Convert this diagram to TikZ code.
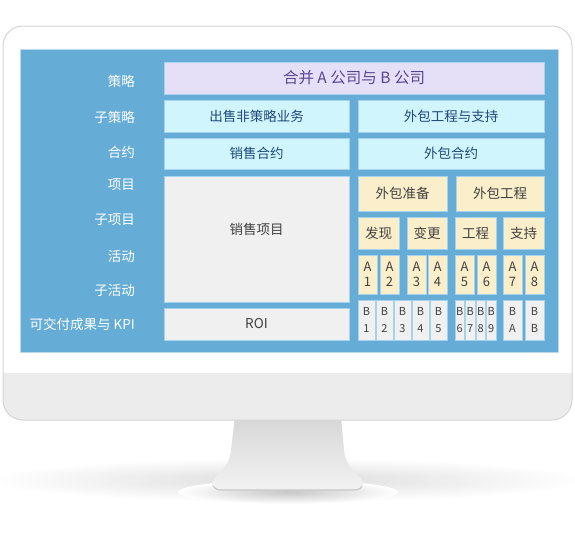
\documentclass[tikz,border=0pt]{standalone}
\usepackage{fontspec}
\setmainfont{Noto Sans CJK SC}
\definecolor{screenblue}{HTML}{65ADD7}
\definecolor{screenrim}{HTML}{BCD9EC}
\definecolor{cellline}{HTML}{A6D2EC}
\definecolor{lavender}{HTML}{E5E0F8}
\definecolor{plumtext}{HTML}{5B4592}
\definecolor{icecyan}{HTML}{D0F5FD}
\definecolor{navytext}{HTML}{1F4A7A}
\definecolor{paper}{HTML}{F0F0F0}
\definecolor{wheat}{HTML}{FBEFCB}
\definecolor{inktext}{HTML}{404040}
\definecolor{chin}{HTML}{ECECEC}
\definecolor{frame}{HTML}{D5D5D5}

\tikzset{
  cell/.style={draw=cellline, line width=0.8pt, inner sep=0pt, outer sep=0pt,
    anchor=north west, align=center, text=inktext,
    font=\fontsize{13.5}{16}\selectfont},
  plumcell/.style={cell, fill=lavender, text=plumtext, font=\fontsize{15.5}{18}\selectfont},
  icecell/.style={cell, fill=icecyan, text=navytext},
  papercell/.style={cell, fill=paper},
  wheatcell/.style={cell, fill=wheat},
  tagcell/.style={cell, fill=wheat, font=\fontsize{13}{15}\selectfont},
  chipcell/.style={cell, fill=paper, font=\fontsize{11}{16.5}\selectfont},
  rowlabel/.style={anchor=east, inner sep=0pt, text=white, font=\fontsize{13.5}{16}\selectfont},
}

\begin{document}
\begin{tikzpicture}[x=1pt,y=-1pt]
    \useasboundingbox (0,0) rectangle (575,552);

    % shadow under the stand
    \shade[inner color=black!14, outer color=white] (288,480) ellipse (300 and 22);
    \shade[inner color=black!22, outer color=white] (288,492) ellipse (110 and 12);

    % stand
    \shade[top color=black!16, bottom color=black!5]
        (235,416) -- (231,450) .. controls (229,470) and (215,474) .. (212,482)
        .. controls (211,487) and (216,490) .. (225,490) -- (350,490)
        .. controls (359,490) and (364,487) .. (363,482)
        .. controls (360,474) and (346,470) .. (344,450) -- (341,416) -- cycle;
    \draw[black!22, line width=1.2pt] (213,486) .. controls (216,490) and (218,490) .. (225,490)
        -- (350,490) .. controls (357,490) and (360,490) .. (362,486);

    % monitor
    \fill[white, rounded corners=20pt] (3,26) rectangle (572,420);
    \begin{scope}
        \clip[rounded corners=20pt] (3,26) rectangle (572,420);
        \fill[chin] (0,373) rectangle (575,425);
    \end{scope}
    \draw[frame, line width=1pt, rounded corners=20pt] (3,26) rectangle (572,420);

    % screen
    \draw[screenrim, fill=screenblue, line width=1pt] (20,49) rectangle (558,352);

    % row labels
    \node[rowlabel] (l1) at (135,81) {策略};
    \node[rowlabel] (l2) at (135,117) {子策略};
    \node[rowlabel] (l3) at (135,152) {合约};
    \node[rowlabel] (l4) at (135,185) {项目};
    \node[rowlabel] (l5) at (135,220) {子项目};
    \node[rowlabel] (l6) at (135,256) {活动};
    \node[rowlabel] (l7) at (135,290) {子活动};
    \node[rowlabel] (l8) at (135,324) {可交付成果与 KPI};

    % left column
    \node[plumcell, minimum width=380pt, minimum height=32pt] (merge) at (164,62) {合并 A 公司与 B 公司};
    \node[icecell, minimum width=185pt, minimum height=32pt] (sell) at (164,100) {出售非策略业务};
    \node[icecell, minimum width=185pt, minimum height=31pt] (sellcon) at (164,138) {销售合约};
    \node[papercell, minimum width=185pt, minimum height=126pt,
        label={[yshift=10pt, text=inktext, font=\fontsize{13.5}{16}\selectfont]center:销售项目}] (sellproj) at (164,176) {};
    \node[papercell, minimum width=185pt, minimum height=32pt] (roi) at (164,308) {ROI};

    % right column
    \node[icecell, minimum width=186pt, minimum height=32pt] (outs) at (358,100) {外包工程与支持};
    \node[icecell, minimum width=186pt, minimum height=31pt] (outcon) at (358,138) {外包合约};
    \node[wheatcell, minimum width=89pt, minimum height=35pt] (prep) at (358,176) {外包准备};
    \node[wheatcell, minimum width=88pt, minimum height=35pt] (eng) at (456,176) {外包工程};
    \node[wheatcell, minimum width=41pt, minimum height=32pt] (find) at (358,217) {发现};
    \node[wheatcell, minimum width=40pt, minimum height=32pt] (change) at (407,217) {变更};
    \node[wheatcell, minimum width=41pt, minimum height=32pt] (work) at (455,217) {工程};
    \node[wheatcell, minimum width=41pt, minimum height=32pt] (support) at (503,217) {支持};

    \foreach \x/\t [count=\i] in {358/1,380/2,407/3,428/4,455/5,477/6,503/7,525/8}
        \node[tagcell, minimum width=19pt, minimum height=39pt] (a\i) at (\x,255) {A\\\t};

    \foreach \x/\w/\t [count=\i] in {358/17/1,376/17/2,394/17/3,412/17/4,430/17/5,
        455/9.5/6,465.5/9.5/7,476/9.5/8,486.5/9.5/9,503/19/A,525/19/B}
        \node[chipcell, minimum width=\w pt, minimum height=40pt] (b\i) at (\x,300) {B\\\t};

\end{tikzpicture}
\end{document}
